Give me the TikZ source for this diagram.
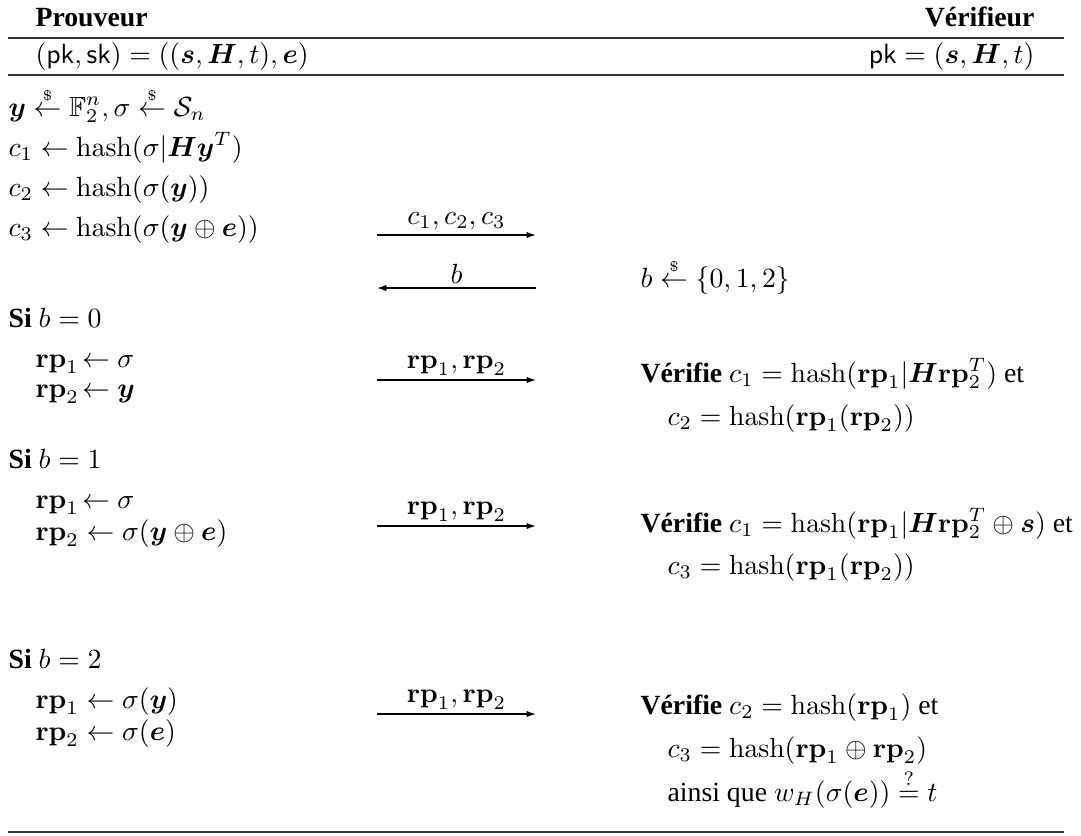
\documentclass[tikz,border=0pt]{standalone}
\usepackage{amsmath,amssymb}
\usepackage[no-math]{fontspec}
\setmainfont{Liberation Serif}
\usetikzlibrary{arrows.meta}

\newcommand{\getsr}{\stackrel{\scriptscriptstyle\$}{\leftarrow}}
\newcommand{\hashf}{\mathrm{hash}}
\newcommand{\rpb}{\mathbf{rp}}
\newcommand{\bv}[1]{\boldsymbol{#1}}

\begin{document}
\begin{tikzpicture}[
  x = 0.36pt, y = -0.36pt,
  lbl/.style  = {anchor=base west, inner sep=0pt},
  rlbl/.style = {anchor=base east, inner sep=0pt},
  msg/.style  = {-{Latex[length=3.4pt,width=2.3pt]}, line width=0.45pt},
  rule/.style = {line width=0.6pt, black!80},
  tag/.style  = {above=1.5pt, inner sep=0pt}
]
\useasboundingbox (0,0) rectangle (1081,835);

% en-tete
\node[lbl]  (prv) at (35,26)   {\textbf{Prouveur}};
\node[rlbl] (ver) at (1035,26) {\textbf{Vérifieur}};
\coordinate (r1l) at (8,38);  \coordinate (r1r) at (1064,38);
\draw[rule] (r1l) -- (r1r);
\node[lbl]  (keys) at (35,63)   {$(\mathsf{pk},\mathsf{sk}) = ((\bv{s},\bv{H},t),\bv{e})$};
\node[rlbl] (pub)  at (1035,63) {$\mathsf{pk} = (\bv{s},\bv{H},t)$};
\coordinate (r2l) at (8,75);  \coordinate (r2r) at (1064,75);
\draw[rule] (r2l) -- (r2r);

% engagement
\node[lbl] (com0) at (8,116) {$\bv{y} \getsr \mathbb{F}_2^n, \sigma \getsr \mathcal{S}_n$};
\node[lbl] (com1) at (8,156) {$c_1 \leftarrow \hashf(\sigma|\bv{H}\bv{y}^T)$};
\node[lbl] (com2) at (8,196) {$c_2 \leftarrow \hashf(\sigma(\bv{y}))$};
\node[lbl] (com3) at (8,236) {$c_3 \leftarrow \hashf(\sigma(\bv{y}\oplus\bv{e}))$};
\coordinate (a1l) at (377,235); \coordinate (a1r) at (536,235);
\draw[msg] (a1l) -- node[tag] (m1) {$c_1, c_2, c_3$} (a1r);

% defi
\coordinate (a2l) at (377,288); \coordinate (a2r) at (536,288);
\draw[msg] (a2r) -- node[tag] (m2) {$b$} (a2l);
\node[lbl] (chal) at (640,287) {$b \getsr \{0,1,2\}$};

% b = 0
\node[lbl] (si0)  at (8,327)  {\textbf{Si} $b = 0$};
\node[lbl] (p0a)  at (35,367) {$\rpb_1\!\leftarrow \sigma$};
\node[lbl] (p0b)  at (35,397) {$\rpb_2\!\leftarrow \bv{y}$};
\coordinate (a3l) at (377,380); \coordinate (a3r) at (536,380);
\draw[msg] (a3l) -- node[tag] (m3) {$\rpb_1, \rpb_2$} (a3r);
\node[lbl] (v0a) at (640,382) {\textbf{Vérifie} $c_1 = \hashf(\rpb_1|\bv{H}\rpb_2^T)$ et};
\node[lbl] (v0b) at (667,425) {$c_2 = \hashf(\rpb_1(\rpb_2))$};

% b = 1
\node[lbl] (si1)  at (8,468)  {\textbf{Si} $b = 1$};
\node[lbl] (p1a)  at (35,508) {$\rpb_1\!\leftarrow \sigma$};
\node[lbl] (p1b)  at (35,540) {$\rpb_2 \leftarrow \sigma(\bv{y}\oplus\bv{e})$};
\coordinate (a4l) at (377,526); \coordinate (a4r) at (536,526);
\draw[msg] (a4l) -- node[tag] (m4) {$\rpb_1, \rpb_2$} (a4r);
\node[lbl] (v1a) at (640,532) {\textbf{Vérifie} $c_1 = \hashf(\rpb_1|\bv{H}\rpb_2^T \oplus \bv{s})$ et};
\node[lbl] (v1b) at (667,574) {$c_3 = \hashf(\rpb_1(\rpb_2))$};

% b = 2
\node[lbl] (si2)  at (8,668)  {\textbf{Si} $b = 2$};
\node[lbl] (p2a)  at (35,708) {$\rpb_1 \leftarrow \sigma(\bv{y})$};
\node[lbl] (p2b)  at (35,740) {$\rpb_2 \leftarrow \sigma(\bv{e})$};
\coordinate (a5l) at (377,714); \coordinate (a5r) at (536,714);
\draw[msg] (a5l) -- node[tag] (m5) {$\rpb_1, \rpb_2$} (a5r);
\node[lbl] (v2a) at (640,714) {\textbf{Vérifie} $c_2 = \hashf(\rpb_1)$ et};
\node[lbl] (v2b) at (667,757) {$c_3 = \hashf(\rpb_1 \oplus \rpb_2)$};
\node[lbl] (v2c) at (667,801) {ainsi que $w_H(\sigma(\bv{e})) \stackrel{?}{=} t$};

\coordinate (r3l) at (8,832); \coordinate (r3r) at (1064,832);
\draw[rule] (r3l) -- (r3r);
\end{tikzpicture}
\end{document}
